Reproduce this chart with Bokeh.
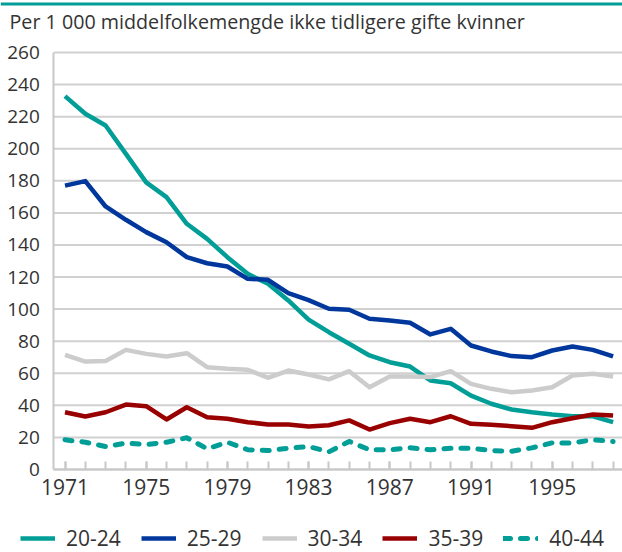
from bokeh.plotting import figure
from bokeh.models import (Range1d, FixedTicker, Legend, LegendItem, Label,
                          BoxAnnotation)
from bokeh.embed import file_html
from bokeh.resources import INLINE

years = list(range(1971, 1999))

age_20_24 = [232.8, 221.8, 214.5, 196.8, 179.0, 169.8, 153.2, 143.8, 132.4, 122.0,
             115.8, 105.4, 93.5, 85.6, 78.4, 71.1, 66.9, 64.2, 55.5, 53.8,
             46.1, 41.0, 37.4, 35.7, 34.3, 33.2, 33.2, 29.5]
age_25_29 = [177.0, 179.8, 164.0, 155.7, 148.0, 141.7, 132.4, 128.6, 126.6, 118.9,
             118.3, 110.0, 105.6, 100.2, 99.6, 94.0, 92.9, 91.5, 84.2, 87.7,
             77.3, 73.6, 70.7, 70.0, 74.2, 76.7, 74.6, 70.5]
age_30_34 = [71.5, 67.3, 67.7, 74.6, 72.1, 70.5, 72.5, 63.8, 62.8, 62.2,
             57.2, 61.7, 59.2, 56.2, 61.3, 51.3, 58.0, 58.0, 57.6, 61.3,
             53.4, 50.3, 48.2, 49.3, 51.3, 58.6, 59.7, 58.0]
age_35_39 = [35.7, 33.0, 35.7, 40.5, 39.5, 31.2, 38.8, 32.6, 31.6, 29.5,
             28.1, 28.1, 26.8, 27.6, 30.6, 24.9, 28.9, 31.6, 29.5, 33.2,
             28.5, 27.9, 27.0, 26.0, 29.5, 32.0, 34.3, 33.7]
age_40_44 = [18.5, 17.0, 14.3, 16.4, 15.6, 17.0, 19.8, 12.9, 17.0, 12.3,
             11.8, 13.3, 14.3, 11.0, 17.5, 12.3, 12.3, 13.5, 12.3, 13.3,
             13.3, 11.8, 11.4, 13.5, 16.6, 16.6, 18.5, 17.5]

series_names = ["20-24", "25-29", "30-34", "35-39", "40-44"]
y_ticks = list(range(0, 261, 20))
x_label_ticks = [1971, 1975, 1979, 1983, 1987, 1991, 1995]
title_text = "Per 1 000 middelfolkemengde ikke tidligere gifte kvinner"

TEAL = "#009e97"
BLUE = "#00379c"
GRAY = "#cccccc"
RED = "#990000"
TEXT = "#333333"
AXIS = "#c8c8c8"
FONT = "Open Sans"

W, H = 622, 552
PX_PER_YEAR = 20.3
PX_PER_UNIT = (469 - 52) / 260.0
X_START = 1971 - 64.5 / PX_PER_YEAR
X_END = X_START + W / PX_PER_YEAR
Y_START = -(H - 469) / PX_PER_UNIT
Y_END = 260 + 52 / PX_PER_UNIT
AXIS_X = 1970.45

p = figure(width=W, height=H, output_backend="svg", toolbar_location=None,
           x_range=Range1d(X_START, X_END), y_range=Range1d(Y_START, Y_END),
           min_border=0)
p.title.text = ""
p.title.visible = False
p.outline_line_color = None
p.background_fill_color = "white"
p.border_fill_color = "white"

p.xgrid.visible = False
p.ygrid.visible = False

# horizontal grid lines from the y axis to the right edge
p.segment(x0=AXIS_X, x1=X_END, y0=y_ticks, y1=y_ticks,
          line_color="#d0d0d0", line_width=2)

p.yaxis.ticker = FixedTicker(ticks=y_ticks)
p.xaxis.ticker = FixedTicker(ticks=x_label_ticks, minor_ticks=years)
p.yaxis.fixed_location = AXIS_X
p.xaxis.fixed_location = 0
p.yaxis.bounds = (0, 260)
p.xaxis.bounds = (AXIS_X, X_END)

for ax in (p.xaxis, p.yaxis):
    ax.axis_line_color = AXIS
    ax.axis_line_width = 2
    ax.major_label_text_font = FONT
    ax.major_label_text_color = TEXT

p.yaxis.major_label_text_font_size = "19px"
p.xaxis.major_label_text_font_size = "21px"

p.yaxis.major_tick_line_color = None
p.yaxis.minor_tick_line_color = None
p.yaxis.major_label_standoff = 8

p.xaxis.major_tick_in = 8
p.xaxis.major_tick_out = 0
p.xaxis.minor_tick_in = 8
p.xaxis.minor_tick_out = 0
p.xaxis.major_tick_line_color = AXIS
p.xaxis.minor_tick_line_color = AXIS
p.xaxis.major_tick_line_width = 2
p.xaxis.minor_tick_line_width = 2
p.xaxis.major_label_standoff = 9

r1 = p.line(years, age_20_24, line_color=TEAL, line_width=4.5, line_join="round")
r2 = p.line(years, age_25_29, line_color=BLUE, line_width=4.5, line_join="round")
r3 = p.line(years, age_30_34, line_color=GRAY, line_width=4.5, line_join="round")
r4 = p.line(years, age_35_39, line_color=RED, line_width=4.5, line_join="round")
r5 = p.line(years, age_40_44, line_color=TEAL, line_width=5, line_dash="7 10",
            line_cap="round", line_join="round")

legend = Legend(items=[LegendItem(label=n, renderers=[r])
                       for n, r in zip(series_names, [r1, r2, r3, r4, r5])],
                orientation="horizontal", location=(20, 0),
                glyph_width=35, glyph_height=18, label_standoff=11, spacing=20,
                padding=0, margin=0, border_line_color=None,
                background_fill_alpha=0,
                label_text_font=FONT, label_text_font_size="21px",
                label_text_color=TEXT)
p.add_layout(legend)

p.add_layout(Label(x=9, y=H - 21, x_units="screen", y_units="screen",
                   text=title_text, text_font=FONT, text_font_size="19.7px",
                   text_color=TEXT, text_baseline="middle", text_align="left"))

p.add_layout(BoxAnnotation(left=0, right=W, top=H - 2, bottom=H - 5,
                           left_units="screen", right_units="screen",
                           top_units="screen", bottom_units="screen",
                           fill_color=TEAL, fill_alpha=1, line_color=None))

open("out.html", "w").write(file_html(p, INLINE))
